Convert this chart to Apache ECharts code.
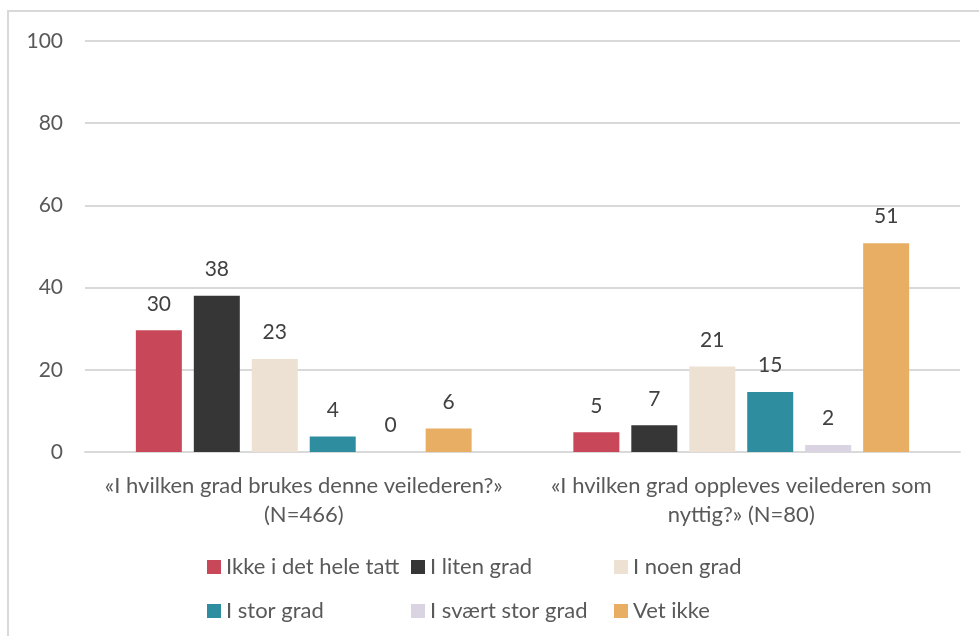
<!DOCTYPE html>
<html>
<head>
<meta charset="utf-8">
<script src="https://cdn.jsdelivr.net/npm/echarts@6/dist/echarts.min.js"></script>
<style>
  html, body { margin: 0; padding: 0; background: #fff; }
  #chart { width: 979px; height: 636px; }
</style>
</head>
<body>
<div id="chart"></div>
<script>
var categories = [
    '«I hvilken grad brukes denne veilederen?»\n(N=466)',
    '«I hvilken grad oppleves veilederen som\nnyttig?» (N=80)'
];
var seriesNames = ['Ikke i det hele tatt', 'I liten grad', 'I noen grad', 'I stor grad', 'I svært stor grad', 'Vet ikke'];
var ikkeHeleTatt = [29.6, 4.8];
var litenGrad = [38.0, 6.5];
var noenGrad = [22.6, 20.8];
var storGrad = [3.8, 14.6];
var svaertStorGrad = [0, 1.7];
var vetIkke = [5.7, 50.8];
var yTicks = [0, 20, 40, 60, 80, 100];

var colors = ['#c8485a', '#363636', '#ede1d3', '#2e8ea0', '#d9d3e2', '#e8ae64'];
var allData = [ikkeHeleTatt, litenGrad, noenGrad, storGrad, svaertStorGrad, vetIkke];
var font = 'Lato, "Open Sans", sans-serif';

var dom = document.getElementById('chart');
var myChart = echarts.init(dom, null, { renderer: 'canvas' });

// excel lays the legend out in fixed columns, so one vertical legend per column
function legendColumn(left, names) {
    return {
        orient: 'vertical',
        left: left,
        top: 551,
        icon: 'rect',
        itemWidth: 14,
        itemHeight: 14,
        itemGap: 22,
        selectedMode: false,
        data: names,
        textStyle: { fontFamily: font, fontSize: 22, color: '#595959', lineHeight: 22 }
    };
}

var option = {
    backgroundColor: '#fff',
    animation: false,
    graphic: [{
        type: 'rect',
        shape: { x: 8, y: 11, width: 1000, height: 700 },
        style: { fill: 'none', stroke: '#d9d9d9', lineWidth: 2 },
        silent: true
    }],
    legend: [
        legendColumn(202, [seriesNames[0], seriesNames[3]]),
        legendColumn(406, [seriesNames[1], seriesNames[4]]),
        legendColumn(609, [seriesNames[2], seriesNames[5]])
    ],
    grid: { left: 85, right: 19, top: 41, bottom: 184, containLabel: false },
    xAxis: {
        type: 'category',
        data: categories,
        axisTick: { show: false },
        axisLine: { lineStyle: { color: '#d9d9d9', width: 2 } },
        axisLabel: {
            margin: 19,
            fontFamily: font,
            fontSize: 22,
            color: '#595959',
            lineHeight: 29,
            interval: 0
        }
    },
    yAxis: {
        type: 'value',
        min: yTicks[0],
        max: yTicks[yTicks.length - 1],
        interval: yTicks[1] - yTicks[0],
        axisLine: { show: false },
        axisTick: { show: false },
        splitLine: { lineStyle: { color: '#d9d9d9', width: 2 } },
        axisLabel: { margin: 22, fontFamily: font, fontSize: 21, color: '#595959' }
    },
    series: seriesNames.map(function (name, i) {
        return {
            name: name,
            type: 'bar',
            barWidth: 46,
            barGap: '26%',
            itemStyle: { color: colors[i] },
            label: {
                show: true,
                position: 'top',
                distance: 16,
                fontFamily: font,
                fontSize: 21,
                color: '#404040',
                formatter: function (p) { return Math.round(p.value); }
            },
            data: allData[i]
        };
    })
};

myChart.setOption(option, true);
</script>
</body>
</html>
